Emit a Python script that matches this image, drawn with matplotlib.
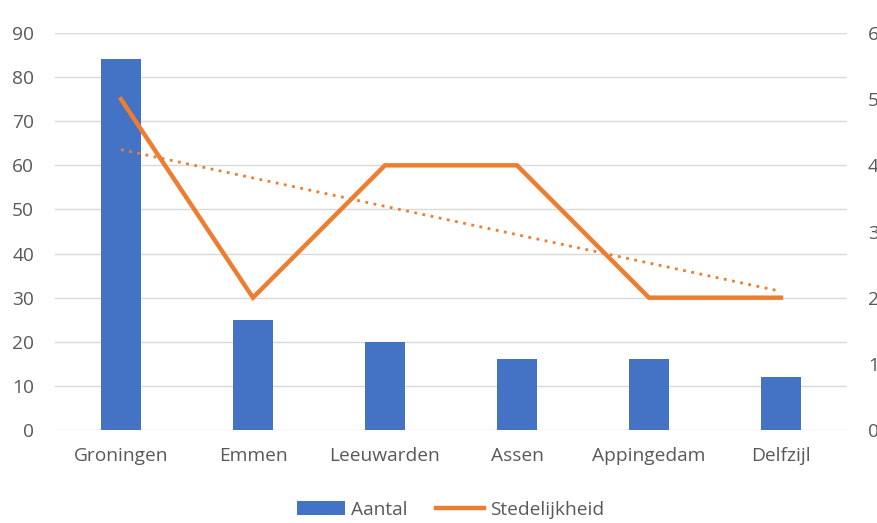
import numpy as np
import matplotlib
matplotlib.use('Agg')
import matplotlib.pyplot as plt

steden = ['Groningen', 'Emmen', 'Leeuwarden', 'Assen', 'Appingedam', 'Delfzijl']
aantal = [84, 25, 20, 16, 16, 12]
stedelijkheid = [5, 2, 4, 4, 2, 2]

BLUE = '#4472C4'
ORANGE = '#ED7D31'
GREY = '#595959'
GRID = '#D9D9D9'

plt.rcParams['font.family'] = ['Open Sans', 'DejaVu Sans']
plt.rcParams['font.size'] = 13.8

fig = plt.figure(figsize=(8.78, 5.23), dpi=100)
ax = fig.add_axes([0.0626, 0.1778, 0.9021, 0.7591])
x = np.arange(len(steden))

ax.bar(x, aantal, width=0.31, color=BLUE, label='Aantal', zorder=2)
ax.set_xlim(-0.5, len(steden) - 0.5)
ax.set_ylim(0, 90)
ax.set_yticks(range(0, 91, 10))
ax.set_xticks(x)
ax.set_xticklabels(steden)
ax.grid(axis='y', color=GRID, linewidth=1, zorder=0)
ax.set_axisbelow(True)
for s in ax.spines.values():
    s.set_visible(False)
ax.tick_params(axis='y', length=0, pad=15, colors=GREY)
ax.tick_params(axis='x', length=0, pad=12, colors=GREY)

# rechter as (loopt in het origineel ook tegen de rand aan)
ax2 = ax.twinx()
ax2.set_ylim(0, 6)
ax2.set_yticks(range(0, 7))
for s in ax2.spines.values():
    s.set_visible(False)
ax2.tick_params(axis='y', length=0, pad=15, colors=GREY)
ax2.plot(x, stedelijkheid, color=ORANGE, linewidth=3.2, label='Stedelijkheid',
         solid_joinstyle='miter', zorder=3)

# lineaire trendlijn
coef = np.polyfit(x, stedelijkheid, 1)
ax2.plot(x, np.polyval(coef, x), color=ORANGE, linewidth=2, linestyle=(0, (1, 2)),
         zorder=3)

h1, l1 = ax.get_legend_handles_labels()
h2, l2 = ax2.get_legend_handles_labels()
fig.legend(h1 + h2, l1 + l2, loc='lower center', ncol=2, frameon=False,
           bbox_to_anchor=(0.513, -0.025), handlelength=2.5, handletextpad=0.3,
           columnspacing=1.5, labelcolor=GREY)

fig.savefig('out.png', dpi=100)
